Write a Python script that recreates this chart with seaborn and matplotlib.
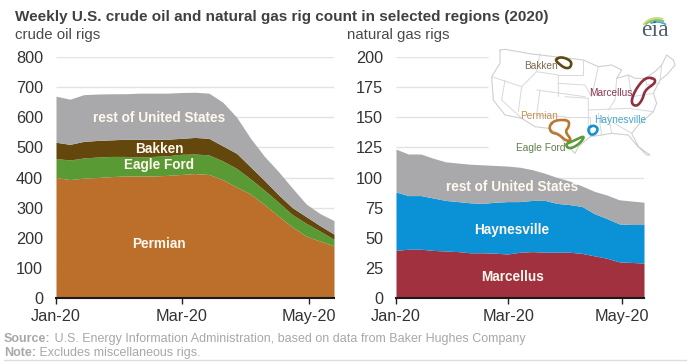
import matplotlib
matplotlib.use('Agg')
import matplotlib.pyplot as plt
from matplotlib.patches import Arc
import numpy as np
import seaborn as sns

# weekly rig counts
weeks = list(range(21))
permian = [400,393,398,400,403,405,405,405,407,410,413,410,393,368,345,310,272,236,205,189,173]
eagle_ford = [63,65,67,68,67,65,63,65,65,67,65,65,62,62,50,48,46,41,43,33,22]
bakken = [54,52,55,55,55,57,59,57,55,53,55,55,50,50,40,32,25,23,22,18,17]
rest_oil = [153,150,155,154,153,151,153,153,153,152,150,150,145,120,95,80,77,65,42,40,45]

marcellus = [39.5,40.5,40.5,39.5,39,38.5,37.5,37.5,37.2,36.5,38,38.5,38,38,38,37,35,33,30,29.5,29]
haynesville = [48.5,44.5,44.5,43.5,42,41.5,41.5,41,42.3,43.5,42,42.5,43,40.5,39.5,39,35,33,31.5,31.5,32]
rest_gas = [35.5,34.5,34.5,33,32,32,32,32,30.5,29.5,28.5,25.5,22.5,21.5,19.5,17,18.5,19.5,20,19.5,18.5]

oil_ticks = [0,100,200,300,400,500,600,700,800]
gas_ticks = [0,25,50,75,100,125,150,175,200]
month_pos = [0,9.05,18.2]
month_labels = ['Jan-20','Mar-20','May-20']

oil_colors = ['#bb6f2b','#5a9a35','#63470c','#a9a9ab']
gas_colors = ['#a1313f','#0a91d6','#a9a9ab']

sns.set_theme(style='white')
plt.rcParams['font.family'] = ['Liberation Sans','DejaVu Sans']

W, H = 690, 364
fig = plt.figure(figsize=(W/100, H/100), dpi=100)

def make_axes(x0, x1):
    return fig.add_axes([x0/W, 1-298/H, (x1-x0)/W, (298-57)/H])

def style_axes(ax, ticks, grid_stop):
    ax.set_xlim(0, 20)
    ax.set_ylim(ticks[0], ticks[-1])
    for t in ticks[1:]:
        ax.hlines(t, 0, grid_stop(t), color='#e3e3e3', lw=1, zorder=0)
    ax.set_yticks(ticks)
    ax.set_xticks(month_pos)
    ax.set_xticklabels(month_labels)
    ax.tick_params(axis='y', length=0, pad=9.4, labelsize=11.7, labelcolor='#333333')
    ax.tick_params(axis='x', length=4, width=1, color='#222222', pad=4,
                   labelsize=11.7, labelcolor='#333333', bottom=True)
    sns.despine(ax=ax, left=True)
    ax.spines['bottom'].set_color('#1a1a1a')
    ax.spines['bottom'].set_linewidth(1.5)
    ax.patch.set_alpha(0)

ax1 = make_axes(56, 334)
ax1.stackplot(weeks, permian, eagle_ford, bakken, rest_oil, colors=oil_colors, lw=0, zorder=2)
style_axes(ax1, oil_ticks, lambda t: 20)

ax2 = make_axes(396, 644)
ax2.stackplot(weeks, marcellus, haynesville, rest_gas, colors=gas_colors, lw=0, zorder=2)
style_axes(ax2, gas_ticks, lambda t: 7.4 if t > 100 else 20)

# overlay in pixel coordinates for texts and the map
ov = fig.add_axes([0, 0, 1, 1])
ov.set_xlim(0, W)
ov.set_ylim(H, 0)
ov.axis('off')

ov.text(15, 17.5, 'Weekly U.S. crude oil and natural gas rig count in selected regions (2020)',
        fontsize=10.95, fontweight='bold', color='#404040', va='center')
ov.text(15, 35, 'crude oil rigs', fontsize=10.85, color='#4a4a4a', va='center')
ov.text(347, 35, 'natural gas rigs', fontsize=10.85, color='#4a4a4a', va='center')

labels = [('rest of United States', 159, 118), ('Bakken', 159, 149), ('Eagle Ford', 159, 165),
          ('Permian', 159, 244), ('rest of United States', 512, 187),
          ('Haynesville', 512, 230), ('Marcellus', 512, 277)]
for s, x, y in labels:
    ov.text(x, y, s, color='#fff8ee', fontsize=9.8, fontweight='bold', ha='center', va='center')

# source and note
src = ov.text(4, 339, 'Source:', fontsize=9, fontweight='bold', color='#a8a8a8', va='center')
ov.annotate(' U.S. Energy Information Administration, based on data from Baker Hughes Company',
            xy=(1, 0.5), xycoords=src, va='center', fontsize=9, color='#a8a8a8')
note = ov.text(4, 353, 'Note:', fontsize=9, fontweight='bold', color='#a8a8a8', va='center')
ov.annotate(' Excludes miscellaneous rigs.', xy=(1, 0.5), xycoords=note, va='center',
            fontsize=9, color='#a8a8a8')
ov.plot([4, 686], [360, 360], color='#dddddd', lw=1)

# map, coordinates taken from a 3x crop starting at x=345
def zx(pts):
    return [345+p[0]/3 for p in pts], [p[1]/3 for p in pts]

def soften(pts, n=3):
    # corner cutting so the play outlines look rounded
    p = np.array(pts[:-1], dtype=float)
    for _ in range(n):
        q = np.roll(p, -1, axis=0)
        p = np.column_stack([0.75*p+0.25*q, 0.25*p+0.75*q]).reshape(-1, 2)
    return np.vstack([p, p[:1]]).tolist()

outline = [(465,150),(480,148),(560,162),(715,180),(760,200),(800,195),(830,210),(815,235),(850,225),
           (870,235),(900,235),(930,215),(950,195),(965,165),(985,180),(990,195),(965,225),(945,240),
           (925,280),(935,310),(925,335),(880,375),(860,400),(880,440),(915,465),(905,465),(870,430),
           (850,405),(800,400),(770,405),(735,410),(700,440),(690,460),(660,430),(640,400),(610,385),
           (570,380),(530,355),(480,345),(445,300),(440,230),(465,190),(465,150)]
x, y = zx(outline)
ov.plot(x, y, color='#cfcfcf', lw=0.8, solid_joinstyle='round')

state_lines = [[(440,230),(530,260),(520,335)], [(480,240),(470,300),(530,355)], [(530,260),(575,215),(640,225),(640,290)],
               [(575,215),(585,160)], [(640,225),(715,225),(715,180)], [(640,250),(720,255),(740,290)],
               [(575,270),(720,290)], [(585,270),(575,345),(660,350),(660,360)], [(660,290),(730,295),(730,380)],
               [(660,350),(735,350),(735,410)], [(730,330),(850,325),(925,335)], [(740,290),(760,200)],
               [(800,400),(790,345)], [(770,405),(760,340)], [(860,400),(800,365)], [(815,235),(810,300),(790,330)],
               [(850,225),(860,290)], [(860,290),(925,280)], [(900,235),(905,255),(945,250)], [(950,195),(945,240)]]
for line in state_lines:
    x, y = zx(line)
    ov.plot(x, y, color='#d8d8d8', lw=0.7)

plays = [([(630,178),(650,170),(680,183),(677,203),(660,205),(640,190),(630,178)], '#5c4a14'),
         ([(930,236),(905,232),(885,250),(866,280),(858,310),(875,320),(892,300),(900,270),(930,250),(930,236)], '#8f2f40'),
         ([(612,378),(630,360),(672,360),(672,380),(660,395),(680,420),(665,424),(640,402),(618,398),(612,378)], '#b9772f'),
         ([(728,385),(745,375),(760,385),(752,402),(735,405),(728,385)], '#1593cf'),
         ([(662,432),(685,423),(720,406),(708,427),(685,443),(668,445),(662,432)], '#5c9a3a')]
for pts, c in plays:
    x, y = zx(soften(pts))
    ov.plot(x, y, color=c, lw=1.9, solid_joinstyle='round')

map_labels = [('Bakken', 541, 66, '#7a6a50'), ('Marcellus', 611, 93, '#8a3a4c'), ('Permian', 539, 116, '#c0905a'),
              ('Haynesville', 620, 120, '#45a5cc'), ('Eagle Ford', 541, 148, '#5f7f48')]
for s, x, y, c in map_labels:
    ov.text(x, y, s, color=c, fontsize=7.3, ha='center', va='center')

# eia logo
ov.text(655, 31, 'eia', family='Liberation Serif', fontsize=17, color='#4d5f6e', ha='center', va='center')
for w, h, t1, t2, c in [(30,24,200,300,'#cddc6a'), (27,20,205,310,'#7fc06a'), (24,16,225,330,'#45a8d0')]:
    ov.add_patch(Arc((657, 30), w, h, theta1=t1, theta2=t2, color=c, lw=1.3))

fig.savefig('out.png', dpi=100)
